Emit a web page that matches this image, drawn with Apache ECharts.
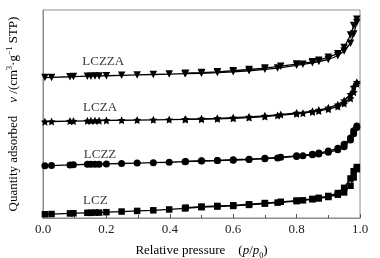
<!DOCTYPE html>
<html>
<head>
<meta charset="utf-8">
<script src="https://cdn.jsdelivr.net/npm/echarts@6/dist/echarts.min.js"></script>
<style>
  html, body { margin: 0; padding: 0; background: #fff; }
  #chart { width: 380px; height: 258px; }
</style>
</head>
<body>
<div id="chart"></div>
<script>
// relative pressure p/p0, adsorption branch
const adsP = [0.006, 0.027, 0.085, 0.096, 0.14, 0.151, 0.164, 0.177, 0.2, 0.248, 0.297, 0.348, 0.398, 0.448, 0.5,
  0.55, 0.6, 0.65, 0.7, 0.74, 0.8, 0.82, 0.85, 0.87, 0.9, 0.93, 0.95, 0.97, 0.98, 0.99];
// desorption branch
const desP = [0.99, 0.98, 0.97, 0.95, 0.93, 0.9, 0.87, 0.85, 0.8, 0.75, 0.7, 0.65, 0.6, 0.55, 0.5, 0.45];

// quantity adsorbed (offset, arbitrary units)
const lczAds = [1.8, 1.9, 2.2, 2.3, 2.5, 2.5, 2.6, 2.6, 2.8, 3.1, 3.4, 3.7, 4.1, 4.6, 5.2, 5.5, 5.8, 6.3, 6.9, 7.4,
  8.1, 8.5, 9.0, 9.4, 10.1, 11.2, 12.3, 15.5, 19.5, 23.5];
const lczDes = [24.5, 22.5, 19, 14.5, 12, 10.6, 9.7, 9.2, 8.4, 7.8, 7.2, 6.6, 6.1, 5.8, 5.5, 5.0];
const lczzAds = [25.1, 25.2, 25.5, 25.6, 25.8, 25.8, 25.9, 25.9, 26.0, 26.2, 26.4, 26.6, 26.8, 27.1, 27.4, 27.6,
  27.8, 28.1, 28.5, 28.9, 29.6, 29.9, 30.4, 30.8, 31.6, 32.8, 34.3, 37.5, 40.5, 43.5];
const lczzDes = [44.2, 42, 38.5, 35.5, 33.5, 32.2, 31.2, 30.7, 29.9, 29.2, 28.7, 28.3, 28.0, 27.7, 27.5, 27.2];
const lczaAds = [46.3, 46.4, 46.6, 46.6, 46.7, 46.7, 46.8, 46.8, 46.9, 47.0, 47.1, 47.2, 47.3, 47.4, 47.5, 47.7,
  47.9, 48.3, 48.8, 49.3, 50.1, 50.4, 51.0, 51.5, 52.3, 53.6, 55.0, 57.5, 60.5, 64.5];
const lczaDes = [65.3, 63, 59.5, 56.5, 54.5, 53.0, 51.9, 51.3, 50.5, 49.7, 49.1, 48.6, 48.2, 47.9, 47.7, 47.5];
const lczzaAds = [67.5, 67.6, 67.9, 68.0, 68.2, 68.2, 68.3, 68.3, 68.4, 68.6, 68.8, 69.0, 69.2, 69.4, 69.6, 69.9,
  70.3, 70.8, 71.5, 72.1, 73.4, 73.9, 74.6, 75.2, 76.2, 78.0, 80.3, 84, 88.5, 94];
const lczzaDes = [95.5, 92.5, 88, 82, 79, 77.3, 75.8, 75.1, 74.0, 73.0, 72.1, 71.4, 70.8, 70.3, 69.9, 69.6];

const sampleNames = ["LCZ", "LCZZ", "LCZA", "LCZZA"];
const labelX = [0.165, 0.18, 0.18, 0.19];
const labelY = [8.2, 30.3, 52.9, 75.0];

const STAR = "path://M0,-10L2.9,-4L9.5,-3.1L4.8,1.5L5.9,8.1L0,5L-5.9,8.1L-4.8,1.5L-9.5,-3.1L-2.9,-4Z";
const FONT = "Liberation Serif";

const zip = (xs, ys) => xs.map((x, i) => [x, ys[i]]);

const curves = [
  { ads: lczAds, des: lczDes, symbol: "rect", size: 6.5, rotate: 0 },
  { ads: lczzAds, des: lczzDes, symbol: "circle", size: 7, rotate: 0 },
  { ads: lczaAds, des: lczaDes, symbol: STAR, size: 8, rotate: 0 },
  { ads: lczzaAds, des: lczzaDes, symbol: "triangle", size: 7.5, rotate: 180 },
];

const series = [];
curves.forEach((c, i) => {
  [c.ads, c.des].forEach((vals, k) => {
    series.push({
      name: sampleNames[i] + (k ? " des" : " ads"),
      type: "line",
      data: zip(k ? desP : adsP, vals),
      symbol: c.symbol,
      symbolSize: c.size,
      symbolRotate: c.rotate,
      lineStyle: { color: "#000", width: 1.3 },
      itemStyle: { color: "#000" },
      animation: false,
      z: 3,
    });
  });
});

series.push({
  type: "scatter",
  data: zip(labelX, labelY).map((d, i) => ({ value: d, name: sampleNames[i] })),
  symbolSize: 0,
  label: {
    show: true,
    position: "inside",
    formatter: (p) => p.name,
    color: "#000",
    fontFamily: FONT,
    fontSize: 13,
  },
  animation: false,
});

const chart = echarts.init(document.getElementById("chart"));
chart.setOption({
  animation: false,
  grid: {
    left: 43, right: 20, top: 10, bottom: 40,
    outerBoundsMode: "none",
    containLabel: false,
    show: true, borderColor: "#8c8c8c", borderWidth: 1,
  },
  xAxis: {
    type: "value",
    min: 0,
    max: 1,
    interval: 0.2,
    axisLine: { show: true, lineStyle: { color: "#8c8c8c" } },
    axisTick: { show: true, inside: true, length: 4, lineStyle: { color: "#555" } },
    minorTick: { show: true, splitNumber: 2, length: 3, lineStyle: { color: "#555" } },
    axisLabel: {
      color: "#222",
      fontFamily: FONT,
      fontSize: 13,
      margin: 5,
      formatter: (v) => v.toFixed(1),
    },
    splitLine: { show: false },
    name: "{t|Relative pressure}{s|    (}{i|p}{t|/}{i|p}{sub|0}{t|)}",
    nameLocation: "middle",
    nameGap: 24,
    nameTextStyle: {
      rich: {
        t: { fontFamily: FONT, fontSize: 13, color: "#000" },
        s: { fontFamily: FONT, fontSize: 13, color: "#000" },
        i: { fontFamily: FONT, fontSize: 13, fontStyle: "italic", color: "#000" },
        sub: { fontFamily: FONT, fontSize: 8, color: "#000", verticalAlign: "bottom", lineHeight: 18 },
      },
    },
  },
  yAxis: {
    type: "value",
    min: 0,
    max: 100,
    axisLine: { show: true, lineStyle: { color: "#8c8c8c" } },
    axisTick: { show: false },
    axisLabel: { show: false },
    splitLine: { show: false },
    name: "{t|Quantity adsorbed    }{i|v}{t| /(cm}{sup|3}{t|·g}{sup|−1}{t| STP)}",
    nameLocation: "middle",
    nameRotate: 90,
    nameGap: 21,
    nameTextStyle: {
      rich: {
        t: { fontFamily: FONT, fontSize: 13, color: "#000" },
        i: { fontFamily: FONT, fontSize: 13, fontStyle: "italic", color: "#000" },
        sup: { fontFamily: FONT, fontSize: 8, color: "#000", verticalAlign: "top", lineHeight: 16 },
      },
    },
  },
  series: series,
});
</script>
</body>
</html>
